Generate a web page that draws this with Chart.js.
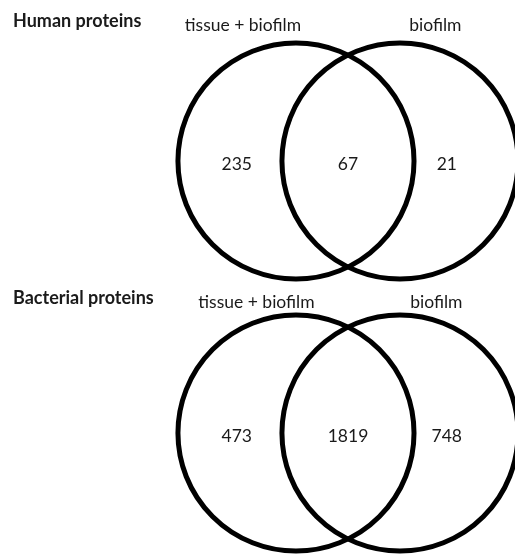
<!DOCTYPE html>
<html>
<head>
<meta charset="utf-8">
<script src="https://cdn.jsdelivr.net/npm/chart.js@4.4.1/dist/chart.umd.min.js"></script>
<style>
  html, body { margin: 0; padding: 0; background: #fff; }
  #wrap { width: 515px; height: 556px; }
</style>
</head>
<body>
<div id="wrap"><canvas id="venn" width="515" height="556"></canvas></div>
<script>
// one Venn diagram per group
const groups = ["Human proteins", "Bacterial proteins"];
const setNames = ["tissue + biofilm", "biofilm"];
// counts: only tissue + biofilm, shared, only biofilm
const humanCounts = [235, 67, 21];
const bacterialCounts = [473, 1819, 748];
const counts = [humanCounts, bacterialCounts];

// layout in data units (x = set index, y = group index)
const RADIUS = 1.135;
const regionX = [-0.57, 0.5, 1.45];
const regionDy = 0.011;
const headerX = [[-0.51, 1.34], [-0.38, 1.35]];
const headerDy = [-0.5, -0.482];

const FONT = "Lato, 'Open Sans', sans-serif";

const circles = groups.flatMap((g, gi) => setNames.map((s, si) => ({ x: si, y: gi })));
const numbers = counts.flatMap((c, gi) => c.map((v, ri) => ({ x: regionX[ri], y: gi + regionDy, v: v })));

const textPlugin = {
    id: "vennText",
    afterDatasetsDraw(chart) {
        const ctx = chart.ctx;
        const xs = chart.scales.x, ys = chart.scales.y;
        ctx.save();
        ctx.fillStyle = "#1a1a1a";
        ctx.textBaseline = "middle";

        // numbers in the regions
        ctx.textAlign = "center";
        ctx.font = "17.5px " + FONT;
        chart.getDatasetMeta(1).data.forEach((pt, i) => {
            ctx.fillText(String(numbers[i].v), pt.x, pt.y);
        });

        groups.forEach((g, gi) => {
            // set names above the circles
            ctx.textAlign = "center";
            ctx.font = "17.5px " + FONT;
            setNames.forEach((s, si) => {
                ctx.fillText(s, xs.getPixelForValue(headerX[gi][si]), ys.getPixelForValue(gi + headerDy[gi]));
            });
            // group title
            ctx.textAlign = "left";
            ctx.font = "bold 18px " + FONT;
            ctx.fillText(g, chart.chartArea.left + 13, ys.getPixelForValue(gi + headerDy[gi]) - 4);
        });
        ctx.restore();
    }
};

new Chart(document.getElementById("venn"), {
    type: "scatter",
    data: {
        datasets: [{
            label: "sets",
            data: circles,
            pointRadius: (c) => {
                const s = c.chart.scales.x;
                return s.getPixelForValue(RADIUS) - s.getPixelForValue(0);
            },
            pointHoverRadius: (c) => {
                const s = c.chart.scales.x;
                return s.getPixelForValue(RADIUS) - s.getPixelForValue(0);
            },
            borderColor: "#000",
            borderWidth: 5,
            hoverBorderWidth: 5,
            backgroundColor: "rgba(0,0,0,0)",
            clip: false
        }, {
            label: "counts",
            data: numbers,
            pointRadius: 0,
            pointHoverRadius: 0
        }]
    },
    options: {
        responsive: false,
        animation: false,
        events: [],
        layout: { padding: 0 },
        plugins: { legend: { display: false }, tooltip: { enabled: false } },
        scales: {
            x: { type: "linear", min: -2.846, max: 2.106, display: false },
            y: { type: "linear", min: -0.592, max: 1.452, reverse: true, display: false }
        }
    },
    plugins: [textPlugin]
});
</script>
</body>
</html>
